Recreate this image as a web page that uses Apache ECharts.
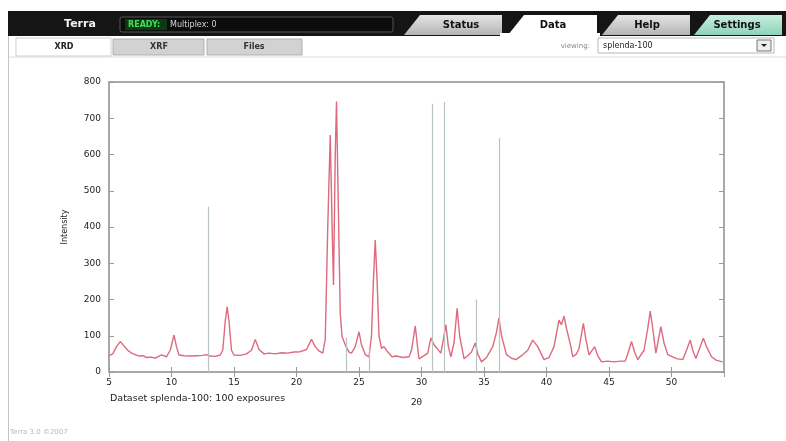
<!DOCTYPE html>
<html>
<head>
<meta charset="utf-8">
<script src="https://cdn.jsdelivr.net/npm/echarts@6/dist/echarts.min.js"></script>
<style>
html,body{margin:0;padding:0;background:#fff;}
#c{width:786px;height:441px;}
</style>
</head>
<body>
<div id="c"></div>
<script>
// ---- data ----
var twoTheta = [5.0,5.3,5.6,5.9,6.2,6.5,6.8,7.1,7.4,7.7,8.0,8.4,8.7,9.0,9.2,9.6,9.9,10.2,10.4,10.6,11.0,11.5,12.0,12.5,12.8,13.1,13.5,13.9,14.1,14.3,14.45,14.6,14.8,15.0,15.5,16.0,16.4,16.7,17.0,17.4,17.8,18.3,18.8,19.3,19.8,20.3,20.8,21.2,21.5,21.8,22.1,22.3,22.5,22.7,22.85,22.96,23.1,23.2,23.35,23.5,23.65,23.9,24.2,24.4,24.7,25.0,25.2,25.5,25.8,26.0,26.15,26.3,26.45,26.6,26.8,27.0,27.3,27.65,28.0,28.5,29.0,29.2,29.5,29.65,29.8,30.2,30.5,30.75,31.0,31.15,31.55,31.75,31.95,32.15,32.35,32.6,32.85,33.05,33.4,33.7,34.0,34.3,34.5,34.8,35.2,35.7,36.0,36.2,36.4,36.8,37.2,37.55,38.0,38.5,38.9,39.3,39.8,40.2,40.6,41.0,41.2,41.4,41.6,41.95,42.1,42.4,42.6,42.95,43.15,43.4,43.85,44.1,44.4,44.9,45.4,45.9,46.3,46.55,46.8,47.05,47.3,47.8,48.1,48.3,48.5,48.75,49.15,49.4,49.7,50.4,50.9,51.2,51.5,51.7,51.95,52.3,52.55,52.8,53.2,53.6,54.1];
var intensity = [45,50,70,84,72,60,52,48,44,45,40,41,38,44,47,42,60,102,70,47,45,44,45,46,48,44,43,47,60,140,180,140,60,47,46,50,60,90,62,50,52,50,53,52,55,56,62,90,70,58,52,90,400,654,400,240,600,746,450,160,97,75,55,52,70,111,75,48,42,100,250,364,250,100,65,70,55,42,44,40,42,60,127,80,36,45,52,94,75,70,52,90,130,70,42,80,176,100,37,45,55,80,50,28,40,70,110,149,100,48,38,34,45,60,88,70,34,40,70,143,130,154,120,70,42,50,65,134,90,47,70,45,28,30,28,30,30,55,84,55,34,60,120,168,120,52,125,80,48,37,34,60,88,60,37,70,93,70,42,32,28];
var stickPos = [12.9, 30.82, 31.78, 34.39, 36.25, 23.95, 25.85];
var stickHeight = [456, 740, 745, 200, 645, 95, 70];
var xTicks = {min: 5, max: 54.2, step: 5};
var yTicks = {min: 0, max: 800, step: 100};
var xTitle = '2\u03b8';
var yTitle = 'Intensity';
var caption = 'Dataset splenda-100: 100 exposures';
var topTabs = ['Status', 'Data', 'Help', 'Settings'];
var subTabs = ['XRD', 'XRF', 'Files'];

// ---- build ----
var lineData = twoTheta.map(function (x, i) { return [x, intensity[i]]; });
var stickLines = stickPos.map(function (x, i) {
  return [{coord: [x, 0]}, {coord: [x, stickHeight[i]]}];
});

var FONT = '"DejaVu Sans", Verdana, sans-serif';
var chart = echarts.init(document.getElementById('c'), null, {renderer: 'canvas'});

function tabPoly(x0, x1, fill, stroke) {
  return {type: 'polygon', shape: {points: [[x0 + 16, 15], [x1, 15], [x1, 35], [x0, 35]]},
    style: {fill: fill, stroke: stroke || null, lineWidth: 1}, z: 2};
}
function grayGrad() {
  return new echarts.graphic.LinearGradient(0, 0, 0, 1, [{offset: 0, color: '#e4e4e4'}, {offset: 1, color: '#b4b4b4'}]);
}
function txt(x, y, s, font, fill, align) {
  return {type: 'text', x: x, y: y, z: 5,
    style: {text: s, font: font, fill: fill, textAlign: align || 'center', textVerticalAlign: 'middle'}};
}

var graphics = [
  // top dark bar
  {type: 'rect', shape: {x: 8, y: 11, width: 778, height: 25}, style: {fill: '#151515'}, z: 1},
  {type: 'rect', shape: {x: 120, y: 17, width: 273, height: 15, r: 2}, style: {fill: '#0c0c0c', stroke: '#555', lineWidth: 1}, z: 2},
  {type: 'rect', shape: {x: 125, y: 19, width: 42, height: 11}, style: {fill: '#0b3a12'}, z: 3},
  txt(80, 24, 'Terra', 'bold 11px ' + FONT, '#f2f2f2'),
  txt(128, 24.5, 'READY:', 'bold 8px ' + FONT, '#3ee05a', 'left'),
  txt(170, 24.5, 'Multiplex: 0', '8px ' + FONT, '#d8d8d8', 'left'),
  // top tabs
  tabPoly(404, 502, grayGrad()),
  tabPoly(508, 597, '#ffffff'),
  tabPoly(602, 690, grayGrad()),
  tabPoly(694, 782, new echarts.graphic.LinearGradient(0, 0, 0, 1, [{offset: 0, color: '#c8eee0'}, {offset: 1, color: '#8fd2b8'}])),
  {type: 'rect', shape: {x: 500, y: 33, width: 100, height: 5}, style: {fill: '#ffffff'}, z: 2},
  txt(461, 25, topTabs[0], 'bold 10px ' + FONT, '#111'),
  txt(553, 25, topTabs[1], 'bold 10px ' + FONT, '#111'),
  txt(647, 25, topTabs[2], 'bold 10px ' + FONT, '#111'),
  txt(737, 25, topTabs[3], 'bold 10px ' + FONT, '#111'),
  // sub tabs
  {type: 'rect', shape: {x: 16, y: 38, width: 95, height: 18}, style: {fill: '#ffffff', stroke: '#cfcfcf', lineWidth: 1}, z: 2},
  {type: 'rect', shape: {x: 113, y: 39, width: 91, height: 16}, style: {fill: '#d2d2d2', stroke: '#b0b0b0', lineWidth: 1}, z: 2},
  {type: 'rect', shape: {x: 207, y: 39, width: 95, height: 16}, style: {fill: '#d2d2d2', stroke: '#b0b0b0', lineWidth: 1}, z: 2},
  txt(64, 47, subTabs[0], 'bold 8px ' + FONT, '#222'),
  txt(159, 47, subTabs[1], 'bold 8px ' + FONT, '#333'),
  txt(254, 47, subTabs[2], 'bold 8px ' + FONT, '#333'),
  txt(590, 46, 'viewing:', '7px ' + FONT, '#888', 'right'),
  {type: 'rect', shape: {x: 598, y: 38, width: 176, height: 15}, style: {fill: '#ffffff', stroke: '#b8b8b8', lineWidth: 1}, z: 2},
  txt(603, 45.5, 'splenda-100', '8px ' + FONT, '#222', 'left'),
  {type: 'rect', shape: {x: 757, y: 40, width: 14, height: 11}, style: {fill: '#eeeeee', stroke: '#777', lineWidth: 1}, z: 3},
  {type: 'polygon', shape: {points: [[761, 44], [767, 44], [764, 47]]}, style: {fill: '#222'}, z: 4},
  // separators
  {type: 'line', shape: {x1: 8, y1: 57, x2: 786, y2: 57}, style: {stroke: '#dcdcdc', lineWidth: 1}, z: 1},
  {type: 'line', shape: {x1: 8.5, y1: 36, x2: 8.5, y2: 441}, style: {stroke: '#c4c4c4', lineWidth: 1}, z: 1},
  // captions
  txt(110, 399, caption, '9.5px ' + FONT, '#1a1a1a', 'left'),
  txt(10, 432, 'Terra 3.0 \u00a92007', '7px ' + FONT, '#b8b8b8', 'left')
];

var axisTxt = {color: '#222', fontSize: 9, fontFamily: FONT};
var option = {
  animation: false,
  backgroundColor: '#ffffff',
  grid: {left: 109, top: 82, right: 62, bottom: 69, show: true, borderColor: '#8c8c8c', borderWidth: 1.5, backgroundColor: '#ffffff'},
  xAxis: [{
    type: 'value', min: xTicks.min, max: xTicks.max, interval: xTicks.step,
    name: xTitle, nameLocation: 'middle', nameGap: 26, nameTextStyle: {fontSize: 9, fontFamily: FONT, color: '#222'},
    axisLine: {show: false}, splitLine: {show: false},
    axisTick: {show: true, inside: true, length: 5, lineStyle: {color: '#999'}},
    axisLabel: Object.assign({margin: 6, showMaxLabel: false}, axisTxt)
  }, {
    type: 'value', position: 'top', min: xTicks.min, max: xTicks.max, interval: xTicks.step,
    axisLine: {show: false}, splitLine: {show: false}, axisLabel: {show: false},
    axisTick: {show: true, inside: true, length: 5, lineStyle: {color: '#999'}}
  }],
  yAxis: [{
    type: 'value', min: yTicks.min, max: yTicks.max, interval: yTicks.step,
    name: yTitle, nameLocation: 'middle', nameGap: 40, nameRotate: 90,
    nameTextStyle: {fontSize: 8, fontFamily: FONT, color: '#222'},
    axisLine: {show: false}, splitLine: {show: false},
    axisTick: {show: true, inside: true, length: 5, lineStyle: {color: '#999'}},
    axisLabel: Object.assign({margin: 8}, axisTxt)
  }, {
    type: 'value', position: 'right', min: yTicks.min, max: yTicks.max, interval: yTicks.step,
    axisLine: {show: false}, splitLine: {show: false}, axisLabel: {show: false},
    axisTick: {show: true, inside: true, length: 5, lineStyle: {color: '#999'}}
  }],
  graphic: graphics,
  series: [{
    type: 'line', xAxisIndex: 0, yAxisIndex: 0, data: [], silent: true,
    markLine: {
      silent: true, symbol: ['none', 'none'], label: {show: false},
      lineStyle: {color: '#b9c4c2', width: 1.2, type: 'solid'},
      data: stickLines
    }
  }, {
    type: 'line', xAxisIndex: 0, yAxisIndex: 0, data: lineData,
    showSymbol: false, smooth: false,
    lineStyle: {color: '#dd6a7e', width: 1.4}
  }]
};
chart.setOption(option);
</script>
</body>
</html>
